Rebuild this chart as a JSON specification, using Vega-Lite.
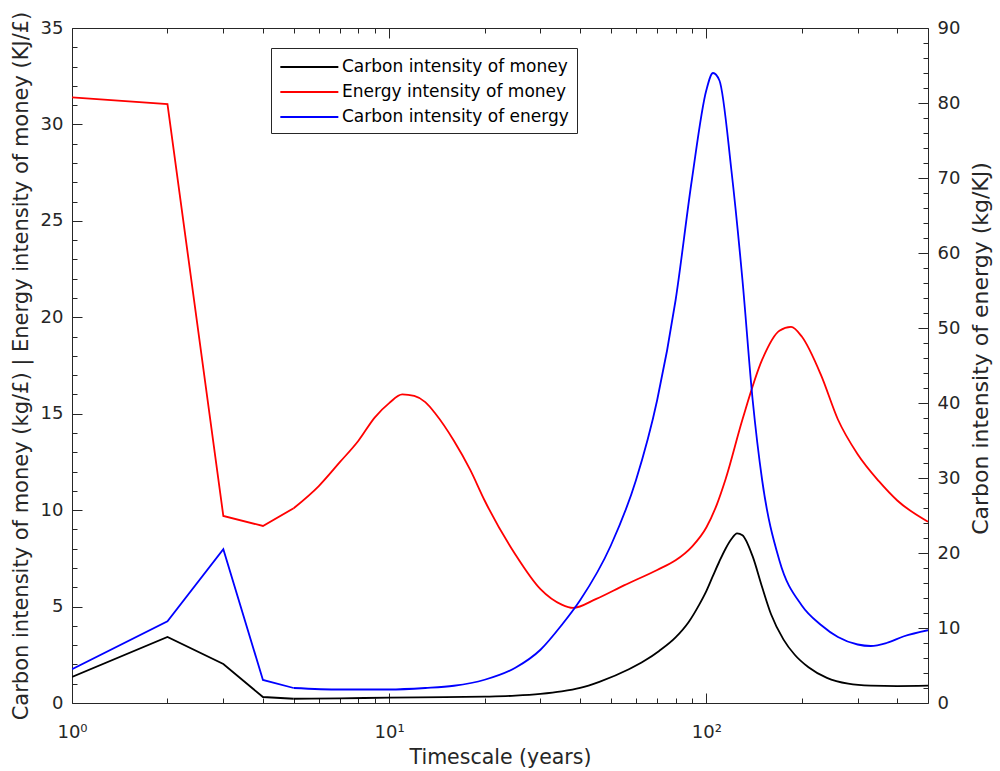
{
  "$schema": "https://vega.github.io/schema/vega-lite/v6.json",
  "width": 856,
  "height": 675,
  "autosize": {"type": "none"},
  "padding": {"left": 72, "top": 28, "right": 72, "bottom": 68},
  "background": "white",
  "config": {
    "view": {"stroke": null},
    "font": "DejaVu Sans",
    "axis": {"grid": false, "domainColor": "#262626", "tickColor": "#262626", "labelColor": "#262626", "titleColor": "#262626", "domainWidth": 1, "tickWidth": 1, "labelFont": "DejaVu Sans", "titleFont": "DejaVu Sans", "labelFontSize": 18, "titleFontSize": 20.5, "titleFontWeight": "normal"},
    "legend": {"labelFont": "DejaVu Sans"}
  },
  "datasets": {
    "d": [
      {"series": "Carbon intensity of money", "t": 1, "v": 1.35},
      {"series": "Carbon intensity of money", "t": 2, "v": 3.42},
      {"series": "Carbon intensity of money", "t": 3, "v": 2.02},
      {"series": "Carbon intensity of money", "t": 4, "v": 0.31},
      {"series": "Carbon intensity of money", "t": 5, "v": 0.22},
      {"series": "Carbon intensity of money", "t": 7, "v": 0.24},
      {"series": "Carbon intensity of money", "t": 10, "v": 0.28},
      {"series": "Carbon intensity of money", "t": 15, "v": 0.3},
      {"series": "Carbon intensity of money", "t": 20, "v": 0.33},
      {"series": "Carbon intensity of money", "t": 25, "v": 0.38},
      {"series": "Carbon intensity of money", "t": 30, "v": 0.47},
      {"series": "Carbon intensity of money", "t": 35, "v": 0.6},
      {"series": "Carbon intensity of money", "t": 40, "v": 0.78},
      {"series": "Carbon intensity of money", "t": 46, "v": 1.1},
      {"series": "Carbon intensity of money", "t": 57, "v": 1.75},
      {"series": "Carbon intensity of money", "t": 64, "v": 2.2},
      {"series": "Carbon intensity of money", "t": 71, "v": 2.7},
      {"series": "Carbon intensity of money", "t": 80, "v": 3.4},
      {"series": "Carbon intensity of money", "t": 88, "v": 4.2},
      {"series": "Carbon intensity of money", "t": 95, "v": 5.1},
      {"series": "Carbon intensity of money", "t": 100, "v": 5.8},
      {"series": "Carbon intensity of money", "t": 105, "v": 6.6},
      {"series": "Carbon intensity of money", "t": 110, "v": 7.35},
      {"series": "Carbon intensity of money", "t": 115, "v": 8.0},
      {"series": "Carbon intensity of money", "t": 120, "v": 8.5},
      {"series": "Carbon intensity of money", "t": 125, "v": 8.8},
      {"series": "Carbon intensity of money", "t": 130, "v": 8.7},
      {"series": "Carbon intensity of money", "t": 140, "v": 7.6},
      {"series": "Carbon intensity of money", "t": 150, "v": 6.0},
      {"series": "Carbon intensity of money", "t": 160, "v": 4.6},
      {"series": "Carbon intensity of money", "t": 175, "v": 3.3},
      {"series": "Carbon intensity of money", "t": 190, "v": 2.5},
      {"series": "Carbon intensity of money", "t": 210, "v": 1.85},
      {"series": "Carbon intensity of money", "t": 240, "v": 1.3},
      {"series": "Carbon intensity of money", "t": 280, "v": 1.0},
      {"series": "Carbon intensity of money", "t": 330, "v": 0.9},
      {"series": "Carbon intensity of money", "t": 400, "v": 0.88},
      {"series": "Carbon intensity of money", "t": 500, "v": 0.9},

      {"series": "Energy intensity of money", "t": 1, "v": 31.4},
      {"series": "Energy intensity of money", "t": 2, "v": 31.05},
      {"series": "Energy intensity of money", "t": 3, "v": 9.7},
      {"series": "Energy intensity of money", "t": 4, "v": 9.18},
      {"series": "Energy intensity of money", "t": 5, "v": 10.1},
      {"series": "Energy intensity of money", "t": 6, "v": 11.25},
      {"series": "Energy intensity of money", "t": 7, "v": 12.5},
      {"series": "Energy intensity of money", "t": 8, "v": 13.6},
      {"series": "Energy intensity of money", "t": 9, "v": 14.8},
      {"series": "Energy intensity of money", "t": 10, "v": 15.55},
      {"series": "Energy intensity of money", "t": 11, "v": 16.0},
      {"series": "Energy intensity of money", "t": 12, "v": 15.92},
      {"series": "Energy intensity of money", "t": 13, "v": 15.6},
      {"series": "Energy intensity of money", "t": 14, "v": 15.0},
      {"series": "Energy intensity of money", "t": 16, "v": 13.6},
      {"series": "Energy intensity of money", "t": 18, "v": 12.1},
      {"series": "Energy intensity of money", "t": 20, "v": 10.5},
      {"series": "Energy intensity of money", "t": 25, "v": 7.7},
      {"series": "Energy intensity of money", "t": 30, "v": 5.9},
      {"series": "Energy intensity of money", "t": 35, "v": 5.1},
      {"series": "Energy intensity of money", "t": 38, "v": 4.93},
      {"series": "Energy intensity of money", "t": 45, "v": 5.4},
      {"series": "Energy intensity of money", "t": 55, "v": 6.1},
      {"series": "Energy intensity of money", "t": 70, "v": 6.9},
      {"series": "Energy intensity of money", "t": 80, "v": 7.4},
      {"series": "Energy intensity of money", "t": 90, "v": 8.1},
      {"series": "Energy intensity of money", "t": 100, "v": 9.1},
      {"series": "Energy intensity of money", "t": 108, "v": 10.3},
      {"series": "Energy intensity of money", "t": 115, "v": 11.6},
      {"series": "Energy intensity of money", "t": 130, "v": 14.7},
      {"series": "Energy intensity of money", "t": 150, "v": 17.8},
      {"series": "Energy intensity of money", "t": 170, "v": 19.3},
      {"series": "Energy intensity of money", "t": 185, "v": 19.5},
      {"series": "Energy intensity of money", "t": 200, "v": 19.0},
      {"series": "Energy intensity of money", "t": 230, "v": 17.0},
      {"series": "Energy intensity of money", "t": 260, "v": 14.7},
      {"series": "Energy intensity of money", "t": 300, "v": 12.9},
      {"series": "Energy intensity of money", "t": 350, "v": 11.5},
      {"series": "Energy intensity of money", "t": 400, "v": 10.5},
      {"series": "Energy intensity of money", "t": 500, "v": 9.4},

      {"series": "Carbon intensity of energy", "t": 1, "v": 4.5},
      {"series": "Carbon intensity of energy", "t": 2, "v": 10.9},
      {"series": "Carbon intensity of energy", "t": 3, "v": 20.5},
      {"series": "Carbon intensity of energy", "t": 4, "v": 3.07},
      {"series": "Carbon intensity of energy", "t": 5, "v": 2.0},
      {"series": "Carbon intensity of energy", "t": 7, "v": 1.8},
      {"series": "Carbon intensity of energy", "t": 10, "v": 1.8},
      {"series": "Carbon intensity of energy", "t": 13, "v": 2.0},
      {"series": "Carbon intensity of energy", "t": 16, "v": 2.3},
      {"series": "Carbon intensity of energy", "t": 20, "v": 3.1},
      {"series": "Carbon intensity of energy", "t": 25, "v": 4.7},
      {"series": "Carbon intensity of energy", "t": 30, "v": 7.1},
      {"series": "Carbon intensity of energy", "t": 35, "v": 10.4},
      {"series": "Carbon intensity of energy", "t": 40, "v": 13.7},
      {"series": "Carbon intensity of energy", "t": 50, "v": 21},
      {"series": "Carbon intensity of energy", "t": 60, "v": 29.7},
      {"series": "Carbon intensity of energy", "t": 70, "v": 40.4},
      {"series": "Carbon intensity of energy", "t": 80, "v": 53.7},
      {"series": "Carbon intensity of energy", "t": 90, "v": 69.7},
      {"series": "Carbon intensity of energy", "t": 100, "v": 81.7},
      {"series": "Carbon intensity of energy", "t": 105, "v": 84},
      {"series": "Carbon intensity of energy", "t": 110, "v": 83},
      {"series": "Carbon intensity of energy", "t": 120, "v": 71},
      {"series": "Carbon intensity of energy", "t": 130, "v": 56.4},
      {"series": "Carbon intensity of energy", "t": 140, "v": 40.4},
      {"series": "Carbon intensity of energy", "t": 150, "v": 29.7},
      {"series": "Carbon intensity of energy", "t": 170, "v": 19},
      {"series": "Carbon intensity of energy", "t": 200, "v": 13},
      {"series": "Carbon intensity of energy", "t": 230, "v": 10.4},
      {"series": "Carbon intensity of energy", "t": 260, "v": 8.8},
      {"series": "Carbon intensity of energy", "t": 300, "v": 7.8},
      {"series": "Carbon intensity of energy", "t": 330, "v": 7.6},
      {"series": "Carbon intensity of energy", "t": 370, "v": 8.0},
      {"series": "Carbon intensity of energy", "t": 420, "v": 8.9},
      {"series": "Carbon intensity of energy", "t": 500, "v": 9.7}
    ]
  },
  "resolve": {"scale": {"y": "independent"}, "axis": {"x": "independent", "y": "independent"}},
  "layer": [
    {
      "data": {"name": "d"},
      "transform": [{"filter": "datum.series != 'Carbon intensity of energy' && datum.t <= 5"}],
      "mark": {"type": "line", "strokeWidth": 1.8, "clip": true},
      "encoding": {
        "x": {"field": "t", "type": "quantitative", "scale": {"type": "log", "domain": [1, 500], "nice": false},
          "axis": {"orient": "bottom", "values": [1, 10, 100], "tickSize": -10, "labelPadding": 44, "labelBaseline": "alphabetic", "labelExpr": "datum.value == 1 ? '10⁰' : datum.value == 10 ? '10¹' : '10²'", "title": "Timescale (years)", "titleY": 60, "titleBaseline": "alphabetic", "labelFlush": false}},
        "y": {"field": "v", "type": "quantitative", "scale": {"domain": [0, 35], "nice": false},
          "axis": {"orient": "left", "values": [0, 5, 10, 15, 20, 25, 30, 35], "tickSize": -10, "labelPadding": 19, "title": "Carbon intensity of money (kg/£) | Energy intensity of money (KJ/£)", "titleFontSize": 21, "titleX": -44.5, "titleBaseline": "alphabetic", "titleAngle": -90, "labelFlush": false}},
        "color": {"field": "series", "type": "nominal",
          "scale": {"domain": ["Carbon intensity of money", "Energy intensity of money", "Carbon intensity of energy"], "range": ["#000000", "#ff0000", "#0000ff"]},
          "legend": {"orient": "none", "legendX": 199, "legendY": 20, "title": null, "fillColor": "white", "strokeColor": "#262626", "padding": 8, "symbolType": "M-1,0H5", "symbolSize": 374, "symbolStrokeWidth": 1.8, "labelOffset": 41, "labelFontSize": 17, "labelColor": "#000000", "rowPadding": 6, "labelLimit": 0}}
      }
    },
    {
      "data": {"name": "d"},
      "transform": [{"filter": "datum.series == 'Carbon intensity of energy' && datum.t <= 5"}],
      "mark": {"type": "line", "strokeWidth": 1.8, "clip": true},
      "encoding": {
        "x": {"field": "t", "type": "quantitative", "scale": {"type": "log", "domain": [1, 500], "nice": false},
          "axis": {"orient": "top", "values": [1, 10, 100], "tickSize": -10, "labels": false, "title": null}},
        "y": {"field": "v", "type": "quantitative", "scale": {"domain": [0, 90], "nice": false},
          "axis": {"orient": "right", "values": [0, 10, 20, 30, 40, 50, 60, 70, 80, 90], "tickSize": -10, "labelPadding": 19, "title": "Carbon intensity of energy (kg/KJ)", "titleFontSize": 22, "titleAngle": -90, "titleX": 59, "titleY": 320, "titleBaseline": "alphabetic", "labelFlush": false}},
        "color": {"field": "series", "type": "nominal",
          "scale": {"domain": ["Carbon intensity of money", "Energy intensity of money", "Carbon intensity of energy"], "range": ["#000000", "#ff0000", "#0000ff"]},
          "legend": {"orient": "none", "legendX": 199, "legendY": 20, "title": null, "fillColor": "white", "strokeColor": "#262626", "padding": 8, "symbolType": "M-1,0H5", "symbolSize": 374, "symbolStrokeWidth": 1.8, "labelOffset": 41, "labelFontSize": 17, "labelColor": "#000000", "rowPadding": 6, "labelLimit": 0}}
      }
    },
    {
      "data": {"name": "d"},
      "transform": [{"filter": "datum.series != 'Carbon intensity of energy' && datum.t >= 5"}],
      "mark": {"type": "line", "strokeWidth": 1.8, "clip": true, "interpolate": "monotone"},
      "encoding": {
        "x": {"field": "t", "type": "quantitative", "scale": {"type": "log", "domain": [1, 500], "nice": false},
          "axis": {"orient": "bottom", "values": [2, 3, 4, 5, 6, 7, 8, 9, 20, 30, 40, 50, 60, 70, 80, 90, 200, 300, 400], "tickSize": -5, "labels": false, "domain": false, "title": null}},
        "y": {"field": "v", "type": "quantitative", "scale": {"domain": [0, 35], "nice": false},
          "axis": {"orient": "left", "values": [1, 2, 3, 4, 6, 7, 8, 9, 11, 12, 13, 14, 16, 17, 18, 19, 21, 22, 23, 24, 26, 27, 28, 29, 31, 32, 33, 34], "tickSize": -5, "labels": false, "domain": false, "title": null}},
        "color": {"field": "series", "type": "nominal",
          "scale": {"domain": ["Carbon intensity of money", "Energy intensity of money", "Carbon intensity of energy"], "range": ["#000000", "#ff0000", "#0000ff"]},
          "legend": {"orient": "none", "legendX": 199, "legendY": 20, "title": null, "fillColor": "white", "strokeColor": "#262626", "padding": 8, "symbolType": "M-1,0H5", "symbolSize": 374, "symbolStrokeWidth": 1.8, "labelOffset": 41, "labelFontSize": 17, "labelColor": "#000000", "rowPadding": 6, "labelLimit": 0}}
      }
    },
    {
      "data": {"name": "d"},
      "transform": [{"filter": "datum.series == 'Carbon intensity of energy' && datum.t >= 5"}],
      "mark": {"type": "line", "strokeWidth": 1.8, "clip": true, "interpolate": "monotone"},
      "encoding": {
        "x": {"field": "t", "type": "quantitative", "scale": {"type": "log", "domain": [1, 500], "nice": false},
          "axis": {"orient": "top", "values": [2, 3, 4, 5, 6, 7, 8, 9, 20, 30, 40, 50, 60, 70, 80, 90, 200, 300, 400], "tickSize": -5, "labels": false, "domain": false, "title": null}},
        "y": {"field": "v", "type": "quantitative", "scale": {"domain": [0, 90], "nice": false},
          "axis": {"orient": "right", "values": [2, 4, 6, 8, 12, 14, 16, 18, 22, 24, 26, 28, 32, 34, 36, 38, 42, 44, 46, 48, 52, 54, 56, 58, 62, 64, 66, 68, 72, 74, 76, 78, 82, 84, 86, 88], "tickSize": -5, "labels": false, "domain": false, "title": null}},
        "color": {"field": "series", "type": "nominal",
          "scale": {"domain": ["Carbon intensity of money", "Energy intensity of money", "Carbon intensity of energy"], "range": ["#000000", "#ff0000", "#0000ff"]},
          "legend": {"orient": "none", "legendX": 199, "legendY": 20, "title": null, "fillColor": "white", "strokeColor": "#262626", "padding": 8, "symbolType": "M-1,0H5", "symbolSize": 374, "symbolStrokeWidth": 1.8, "labelOffset": 41, "labelFontSize": 17, "labelColor": "#000000", "rowPadding": 6, "labelLimit": 0}}
      }
    }
  ]
}
